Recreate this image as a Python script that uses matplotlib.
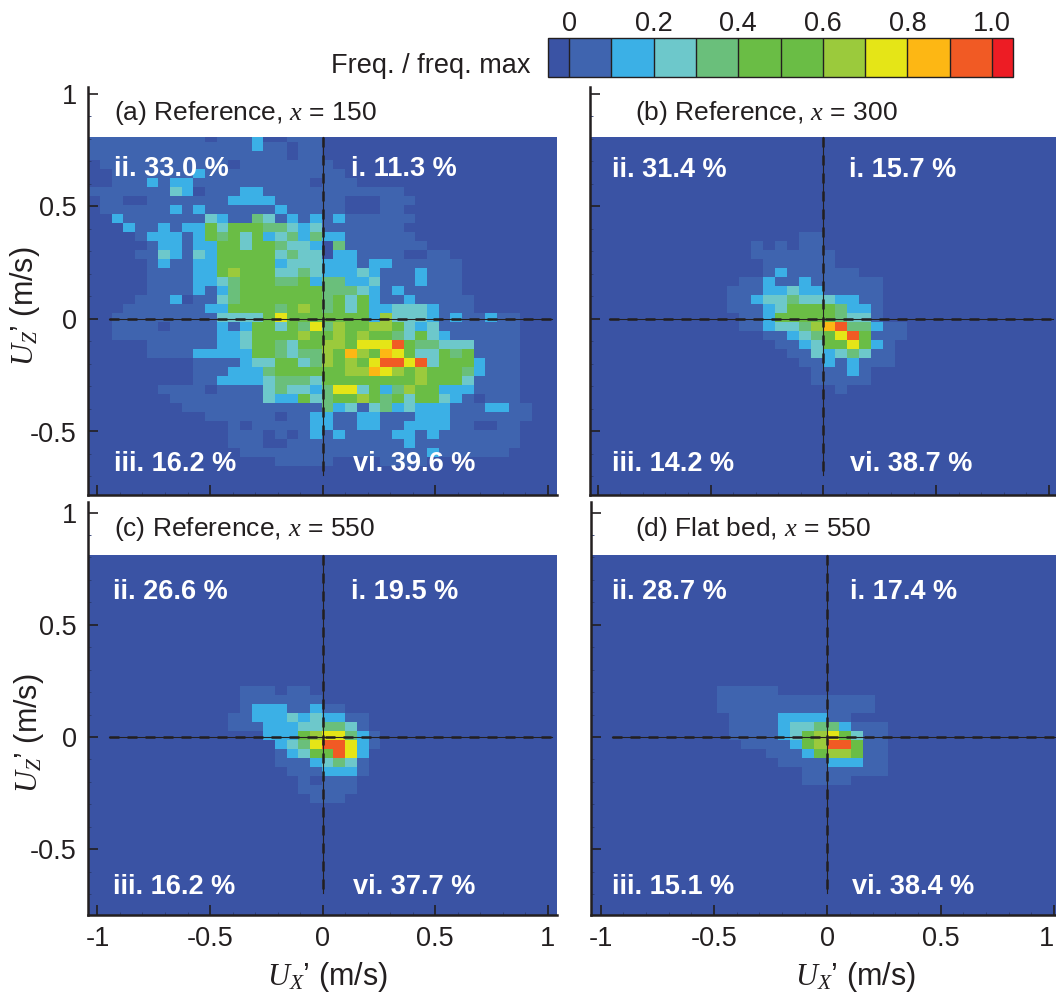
import numpy as np
import matplotlib
matplotlib.use('Agg')
from matplotlib import pyplot as plt
from matplotlib.colors import ListedColormap, BoundaryNorm
from matplotlib.cm import ScalarMappable

plt.rcParams['font.family'] = ['Liberation Sans', 'DejaVu Sans']
plt.rcParams['mathtext.fontset'] = 'custom'
plt.rcParams['mathtext.it'] = 'Liberation Serif:italic'
plt.rcParams['mathtext.rm'] = 'Liberation Sans'
plt.rcParams['text.color'] = '#231F20'

# colour bands of the frequency scale
levels = [-0.05, 0, 0.1, 0.2, 0.3, 0.4, 0.5, 0.6, 0.7, 0.8, 0.9, 1.0, 1.05]
band_colors = ['#3A53A4', '#3F64AF', '#3BB0E6', '#6DC8CB', '#6ABF7B', '#6ABD45',
               '#6ABD45', '#9BCA3C', '#E5E517', '#FDB714', '#F15A24', '#ED1C24']
cbar_ticks = [0, 0.2, 0.4, 0.6, 0.8, 1.0]
cbar_labels = ['0', '0.2', '0.4', '0.6', '0.8', '1.0']

# binned frequency, one char per cell = band number (a = band 10)
# each list starts at row/col given in the *_start tuples, rest of grid is band 0
freq_a_start = (0, 0)
freq_a = [
    '11111111110111200111',
    '11111111111111211011',
    '11111111111111111011',
    '011111111111011111111',
    '0011111112111111111111',
    '00111212211111111110111',
    '1111111320111221111111111110',
    '011001111111222211111100011100',
    '011111121211111121111100011000',
    '002111111132114312121211111100',
    '000211212253555443231111111000',
    '000012221254535234242211111100',
    '000001221225535543320411111110',
    '0000113213255555343302211110011',
    '00000121122555552333222122111111',
    '00000111122575553343222321112111',
    '00000111122345554452442231112111',
    '00000111121245555555444321211111',
    '000011120113455555554535211211111',
    '000111111122555545754535223332111',
    '0011111111133335855555552733321211211',
    '0011110111121255354847557753231111111',
    '0011111111122355557557575543532111111',
    '00000111111223554355775888a5443331111',
    '0000011112222255434475975985335451111',
    '0000000001111233553475758aa8a35552111',
    '0000000001112224555555779875755542111',
    '0000000001122223444355555555755531111',
    '0000001111011113433248835247552221111',
    '0000000111111113225345575453553210111',
    '00000000111111111111423134232221112211',
    '00000000001111110112211221112221111111',
    '0000000000001011111221122112222110011',
    '0000000000001110101212111122121111111',
    '0000000000001110011111111112111111111',
    '000000000000011111111111111112111111',
    '000000000000000011111000011110',
]

freq_b_start = (11, 12)
freq_b = [
    '00000011',
    '00101011',
    '001111111',
    '000111111',
    '00012111111',
    '0112112111111',
    '1112232211111',
    '1123343332211',
    '1112355554221',
    '0112555554331',
    '011233479a44211',
    '0001123458a5111',
    '00001123558521',
    '00000113234311',
    '00000011212111',
    '000000011121',
    '000000011111',
    '0000000001',
]

freq_c_start = (15, 12)
freq_c = [
    '0111011',
    '01111111',
    '0122211211',
    '112223232211',
    '111222334431',
    '0002225788421',
    '00002348aa821',
    '000012355a82',
    '000011123431',
    '000001112221',
    '00000010111',
    '00000011111',
    '0000000111',
]

freq_d_start = (15, 11)
freq_d = [
    '11111',
    '1111111111111',
    '1111111111111',
    '01111222211',
    '01111233442111',
    '01111235785311',
    '001111257aa511',
    '00001112577511',
    '00000111122211',
    '00000001111111',
    '00000001111',
]

# panel texts
panel_titles = ['(a) Reference, $x$ = 150', '(b) Reference, $x$ = 300',
                '(c) Reference, $x$ = 550', '(d) Flat bed, $x$ = 550']
quad_ii = ['ii. 33.0 %', 'ii. 31.4 %', 'ii. 26.6 %', 'ii. 28.7 %']
quad_i = ['i. 11.3 %', 'i. 15.7 %', 'i. 19.5 %', 'i. 17.4 %']
quad_iii = ['iii. 16.2 %', 'iii. 14.2 %', 'iii. 16.2 %', 'iii. 15.1 %']
quad_vi = ['vi. 39.6 %', 'vi. 38.7 %', 'vi. 37.7 %', 'vi. 38.4 %']

W, H = 1056, 996
FS = 19.5


def grid(rows, start):
    # expand the stored rows to the full 40x40 array of frequencies
    out = np.zeros((40, 40), dtype=int)
    for i, row in enumerate(rows):
        for j, c in enumerate(row):
            out[start[0] + i, start[1] + j] = int(c, 12)
    return (out - 0.5) / 10.0


def add_ax(left, right, top, bottom):
    return fig.add_axes([left / W, 1 - bottom / H, (right - left) / W, (bottom - top) / H])


def px_text(x, y, s, **kw):
    return fig.text(x / W, 1 - y / H, s, **kw)


cmap = ListedColormap(band_colors)
norm = BoundaryNorm(levels, cmap.N)

fig = plt.figure(figsize=(W / 100, H / 100), dpi=100)

# left, right, top, bottom, x0 px, y0 px, px per unit x, px per unit y, cell width px, title x, title y
panels = [
    (88, 557, 87, 495, 322.5, 319, 225.0, 225.0, 11.67, 114, 113),
    (590, 1056, 87, 495, 823.3, 319, 225.5, 225.0, 12.0, 635, 113),
    (88, 557, 502, 915, 322.5, 737, 225.0, 224.5, 11.67, 114, 529),
    (591, 1056, 502, 915, 827.3, 737, 226.7, 224.5, 12.2, 635, 529),
]
freqs = [grid(freq_a, freq_a_start), grid(freq_b, freq_b_start),
         grid(freq_c, freq_c_start), grid(freq_d, freq_d_start)]
text_xy = [
    [(114, 169), (351, 169), (114, 464), (353, 464)],
    [(612, 170), (849, 170), (612, 464), (850, 464)],
    [(113, 592), (351, 592), (113, 887), (353, 887)],
    [(612, 592), (850, 592), (612, 887), (852, 887)],
]

for ip, p in enumerate(panels):
    left, right, top, bottom, x0, y0, kx, ky, cell, tx, ty = p
    ax = add_ax(left, right, top, bottom)
    ax.set_xlim((left - x0) / kx, (right - x0) / kx)
    ax.set_ylim((y0 - bottom) / ky, (y0 - top) / ky)
    ax.axhspan(ax.get_ylim()[0], 0.81, facecolor=band_colors[0], edgecolor='none', zorder=0)

    x_edges = (np.arange(41) - 20) * cell / kx - 0.003
    y_edges = np.minimum(0.0267 + 0.04 * (20 - np.arange(41)), 0.81)
    ax.pcolormesh(x_edges, y_edges, freqs[ip], cmap=cmap, norm=norm, antialiased=False, zorder=1)

    # zero lines
    ax.plot([-0.95, 1.02], [0, 0], color='#231F20', lw=0.8, zorder=3)
    ax.plot([-0.95, 1.02], [0, 0], color='#231F20', lw=1.8, ls=(0, (4.0, 3.2)), zorder=3)
    ax.plot([0, 0], [0.81, -0.695], color='#231F20', lw=0.8, zorder=3)
    ax.plot([0, 0], [0.81, -0.695], color='#231F20', lw=1.8, ls=(0, (4.0, 3.2)), zorder=3)

    ax.spines['top'].set_visible(False)
    ax.spines['right'].set_visible(False)
    for s in ['left', 'bottom']:
        ax.spines[s].set_linewidth(1.8)
        ax.spines[s].set_color('#231F20')
    ax.set_facecolor('white')

    ax.set_xticks([-1, -0.5, 0, 0.5, 1])
    ax.set_yticks([-0.5, 0, 0.5, 1])
    ax.set_xticks(np.arange(-10, 11) / 10, minor=True)
    ax.set_yticks(np.arange(-7, 11) / 10, minor=True)
    ax.tick_params(which='major', direction='in', length=7.5, width=1.2, color='#231F20',
                   labelsize=FS, labelcolor='#231F20', pad=8)
    ax.tick_params(which='minor', direction='in', length=2.5, width=0.6, color='#2A3A70')
    if ip >= 2:
        ax.set_xticklabels(['-1', '-0.5', '0', '0.5', '1'])
    else:
        ax.set_xticklabels([])
    if ip % 2 == 0:
        ax.set_yticklabels(['-0.5', '0', '0.5', '1'])
    else:
        ax.set_yticklabels([])
    if ip == 3:
        # last label sits left of its tick, at the picture edge
        ax.get_xticklabels()[-1].set_ha('right')

    px_text(tx, ty, panel_titles[ip], fontsize=19, ha='left', va='center')
    quad = [quad_ii[ip], quad_i[ip], quad_iii[ip], quad_vi[ip]]
    for q, xy in zip(quad, text_xy[ip]):
        px_text(xy[0], xy[1], q, fontsize=19.5, fontweight='bold', color='white', ha='left', va='center', zorder=5)

# axis labels
px_text(25, 306, "$U_Z$’ (m/s)", fontsize=22, rotation=90, ha='center', va='center')
px_text(29, 733, "$U_Z$’ (m/s)", fontsize=22, rotation=90, ha='center', va='center')
px_text(327, 977, "$U_X$’ (m/s)", fontsize=22, ha='center', va='center')
px_text(855, 977, "$U_X$’ (m/s)", fontsize=22, ha='center', va='center')

# colour bar on top
cax = add_ax(548, 1013, 38, 77)
cb = fig.colorbar(ScalarMappable(norm=norm, cmap=cmap), cax=cax, orientation='horizontal',
                  spacing='proportional', drawedges=True, ticks=cbar_ticks)
cb.ax.set_xticklabels(cbar_labels)
cb.ax.xaxis.set_ticks_position('top')
cb.ax.minorticks_off()
cb.ax.tick_params(length=0, labelsize=FS, labelcolor='#231F20', pad=1)
cb.outline.set_linewidth(1.0)
cb.outline.set_edgecolor('#231F20')
cb.dividers.set_color('#231F20')
cb.dividers.set_linewidth(1.0)
px_text(331, 66, 'Freq. / freq. max', fontsize=FS, ha='left', va='center')

fig.savefig('out.png', dpi=100)
